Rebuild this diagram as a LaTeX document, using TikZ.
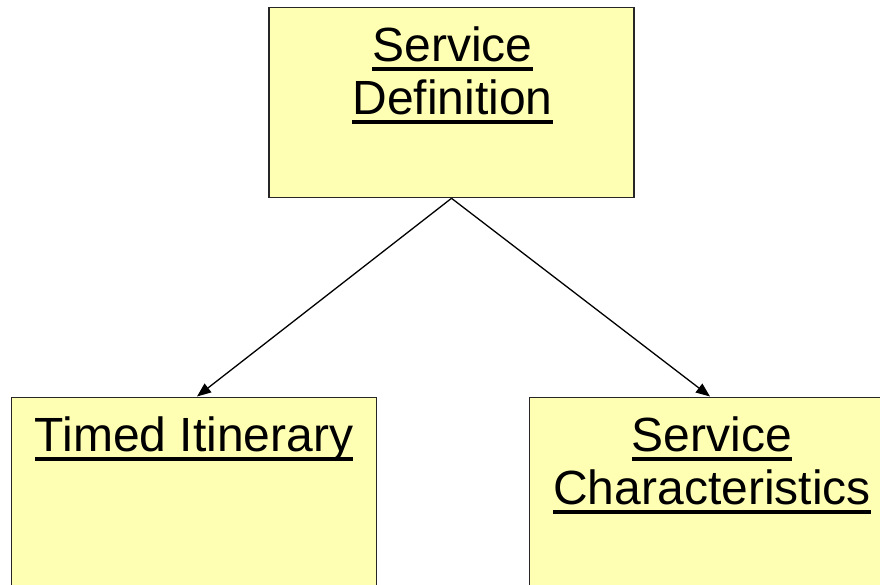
\documentclass[tikz,border=0pt]{standalone}
\usepackage{fontspec}
\setmainfont{Liberation Sans}
\usetikzlibrary{arrows.meta,calc}
\definecolor{cardfill}{RGB}{255,255,180}
\newcommand\ulword[1]{\setbox0\hbox{#1}\rlap{\raisebox{-9.5pt}{\rule{\wd0}{4.5pt}}}\box0}
\begin{document}
\begin{tikzpicture}[x=1pt,y=-1pt,
  card/.style={draw=black!85, line width=1.3pt, fill=cardfill, minimum width=365pt, anchor=north, inner sep=0pt},
  ttl/.style={anchor=base, font=\fontsize{48}{53}\selectfont, inner sep=0pt},
  conn/.style={line width=1.3pt, -{Triangle[length=14pt,width=11pt]}}]
\useasboundingbox (0,0) rectangle (880,585);
\clip (0,0) rectangle (880,585);
\fill[white] (0,0) rectangle (880,585);
\node[card, minimum height=190pt] (sd) at (451.5,7) {};
\node[card, minimum height=260pt] (ti) at (194,396.5) {};
\node[card, minimum height=260pt] (sc) at (712,396.5) {};
\node[ttl] (sd1) at ($(sd.north)+(1,55)$) {\ulword{Service}};
\node[ttl] (sd2) at ($(sd.north)+(1,108)$) {\ulword{Definition}};
\node[ttl] (ti1) at ($(ti.north)+(0,55)$) {\ulword{Timed Itinerary}};
\node[ttl] (sc1) at ($(sc.north)+(0,55)$) {\ulword{Service}};
\node[ttl] (sc2) at ($(sc.north)+(0,108)$) {\ulword{Characteristics}};
\draw[conn] (sd.south) -- ($(ti.north)+(3,0)$);
\draw[conn] (sd.south) -- ($(sc.north)+(-2,0)$);
\end{tikzpicture}
\end{document}
